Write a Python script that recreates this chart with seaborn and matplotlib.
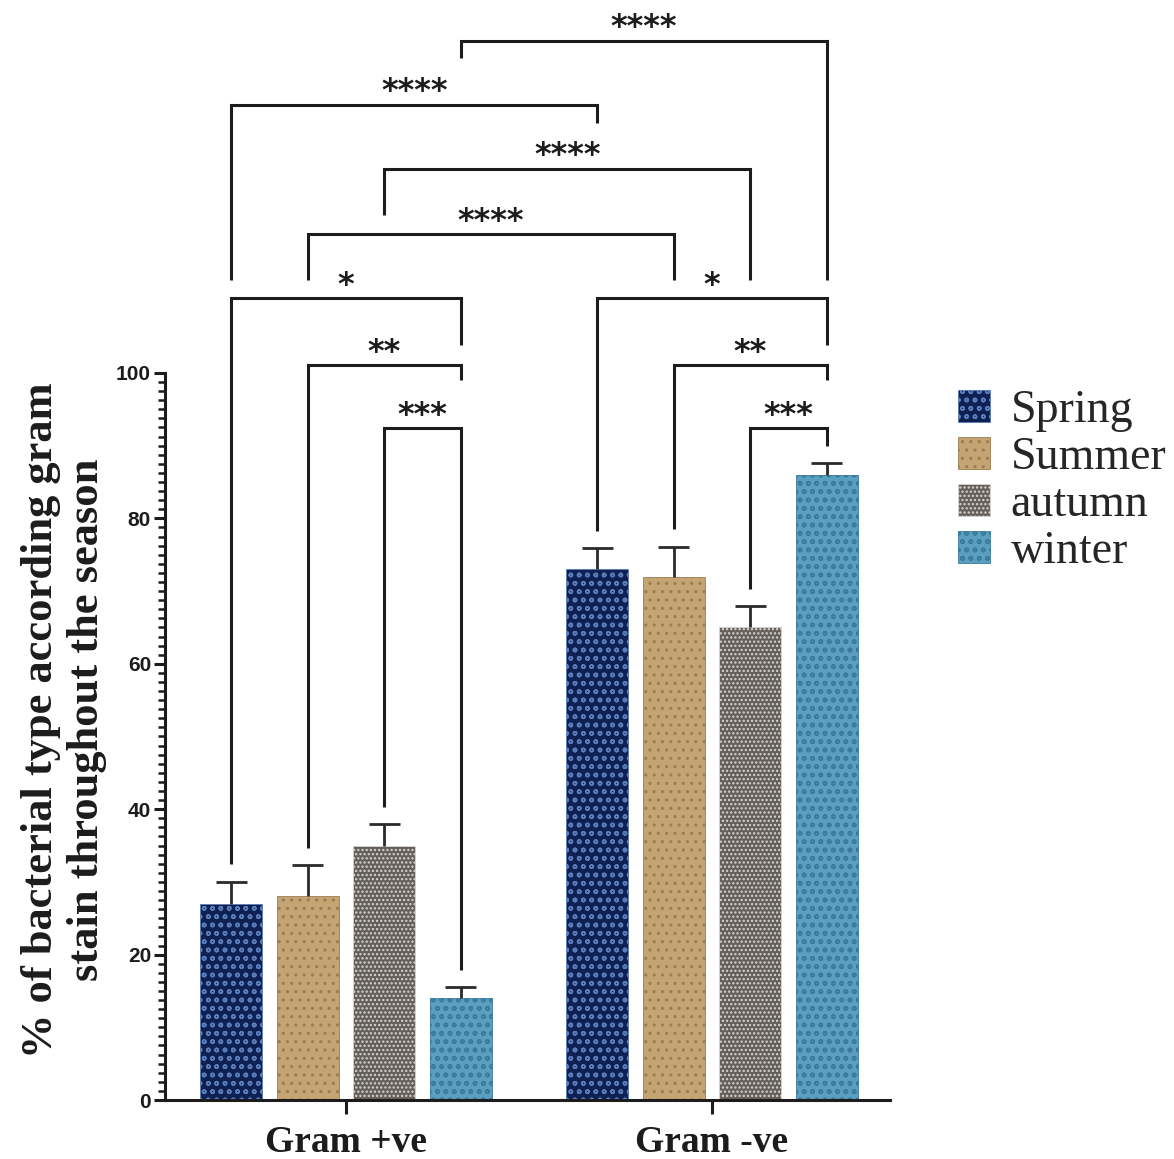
import numpy as np
import pandas as pd
import matplotlib
matplotlib.use("Agg")
import matplotlib.pyplot as plt
import matplotlib.patches as mpatches
from matplotlib.ticker import MultipleLocator, FixedLocator
import seaborn as sns

# ---- data -------------------------------------------------------------
groups = ["Gram +ve", "Gram -ve"]
seasons = ["Spring", "Summer", "autumn", "winter"]
mean_pos = [27, 28, 35, 14]
mean_neg = [73, 72, 65, 86]
sd_pos = [3.0, 4.3, 2.9, 1.5]
sd_neg = [2.9, 4.1, 2.9, 1.6]
y_ticks = [0, 20, 40, 60, 80, 100]
y_label = "% of bacterial type according gram\nstain throughout the season"

# pairwise comparisons: (group a, season a, group b, season b, significance)
comparisons = [
    ("Gram +ve", "winter", "Gram -ve", "winter", "****"),
    ("Gram +ve", "Spring", "Gram -ve", "Spring", "****"),
    ("Gram +ve", "autumn", "Gram -ve", "autumn", "****"),
    ("Gram +ve", "Summer", "Gram -ve", "Summer", "****"),
    ("Gram +ve", "Spring", "Gram +ve", "winter", "*"),
    ("Gram +ve", "Summer", "Gram +ve", "winter", "**"),
    ("Gram +ve", "autumn", "Gram +ve", "winter", "***"),
    ("Gram -ve", "Spring", "Gram -ve", "winter", "*"),
    ("Gram -ve", "Summer", "Gram -ve", "winter", "**"),
    ("Gram -ve", "autumn", "Gram -ve", "winter", "***"),
]

# ---- styling ----------------------------------------------------------
base_colors = {"Spring": "#0e2152", "Summer": "#c4a472",
               "autumn": "#645f5a", "winter": "#5b9fc0"}
hatch_colors = {"Spring": "#5a7dba", "Summer": "#9a7d50",
                "autumn": "#d9d5d0", "winter": "#3a7b9c"}
hatches = {"Spring": "oo", "Summer": "..", "autumn": "....", "winter": "oo"}
line_col = "#1c1c1c"

sns.set_theme(style="ticks")
plt.rcParams["font.family"] = ["Liberation Sans", "DejaVu Sans"]
plt.rcParams["hatch.linewidth"] = 1.1

df = pd.DataFrame({
    "group": np.repeat(groups, len(seasons)),
    "season": seasons * len(groups),
    "value": mean_pos + mean_neg,
    "sd": sd_pos + sd_neg,
})

fig = plt.figure(figsize=(11.74, 11.59), dpi=100)
ax = fig.add_axes([0.1405, 0.0509, 0.6175, 0.6273])

sns.barplot(data=df, x="group", y="value", hue="season", order=groups,
            hue_order=seasons, palette=base_colors, saturation=1,
            width=0.836, gap=0.19, errorbar=None, legend=False, ax=ax)

# texture each season's bars and collect bar geometry
bars = {}
for season, cont in zip(seasons, ax.containers):
    for grp, patch in zip(groups, cont.patches):
        patch.set_hatch(hatches[season])
        patch.set_edgecolor(hatch_colors[season])
        patch.set_linewidth(0.6)
        bars[(grp, season)] = patch

lookup = df.set_index(["group", "season"])

# upward error bars (mean + SD)
for key, patch in bars.items():
    cx = patch.get_x() + patch.get_width() / 2
    w = patch.get_width()
    m = lookup.loc[key, "value"]
    s = lookup.loc[key, "sd"]
    ax.vlines(cx, m, m + s, color="#2a2a2a", lw=2.0, zorder=4)
    ax.hlines(m + s, cx - w / 4, cx + w / 4, color="#2a2a2a", lw=2.0, zorder=4)

def bar_x(grp, season):
    p = bars[(grp, season)]
    return p.get_x() + p.get_width() / 2

def bar_top(grp, season):
    return lookup.loc[(grp, season), "value"] + lookup.loc[(grp, season), "sd"]

# bracket layout: horizontal level, left leg end, right leg end
# (None -> leg runs down to just above the error bar)
bracket_layout = [
    (145.7, 143.3, 112.8),
    (136.9, 112.8, 134.4),
    (128.1, 121.7, 112.8),
    (119.1, 112.8, 112.8),
    (110.3, None, 103.9),
    (101.1, None, 99.0),
    (92.4, None, None),
    (110.3, None, 103.9),
    (101.1, None, 99.0),
    (92.4, None, None),
]
leg_gap = 2.4
for (ga, sa, gb, sb, label), (lvl, l_end, r_end) in zip(comparisons, bracket_layout):
    x1, x2 = bar_x(ga, sa), bar_x(gb, sb)
    y1 = l_end if l_end is not None else bar_top(ga, sa) + leg_gap
    y2 = r_end if r_end is not None else bar_top(gb, sb) + leg_gap
    ax.plot([x1, x1, x2, x2], [y1, lvl, lvl, y2], color=line_col, lw=2.2,
            clip_on=False, solid_joinstyle="miter", solid_capstyle="butt",
            zorder=5)
    ax.text((x1 + x2) / 2, lvl + 0.6, label, ha="center", va="baseline",
            fontsize=23, fontweight="bold", family="DejaVu Sans",
            color=line_col, clip_on=False)

# axes
ax.set_xlim(-0.495, 1.486)
ax.set_ylim(0, 100)
ax.yaxis.set_major_locator(FixedLocator(y_ticks))
ax.yaxis.set_minor_locator(MultipleLocator(1.25))
ax.set_xlabel("")
ax.set_ylabel("")
sns.despine(ax=ax)
for side in ("left", "bottom"):
    ax.spines[side].set_linewidth(2.2)
    ax.spines[side].set_color(line_col)
ax.tick_params(axis="y", which="major", length=8, width=2.2, pad=2,
               color=line_col, labelsize=15)
ax.tick_params(axis="y", which="minor", length=5, width=1.8, color=line_col)
ax.tick_params(axis="x", which="major", length=10, width=2.2, pad=8,
               color=line_col)
for t in ax.get_yticklabels():
    t.set_fontweight("bold")
    t.set_color(line_col)
ax.set_xticks([0, 1])
ax.set_xticklabels(groups, family="Liberation Serif", fontweight="bold",
                   fontsize=27, color=line_col)

fig.text(0.0545, 0.379, y_label, rotation=90, ha="center", va="center",
         family="Liberation Serif", fontweight="bold", fontsize=32,
         multialignment="center", linespacing=1.17, color=line_col)

handles = [mpatches.Patch(facecolor=base_colors[s], edgecolor=hatch_colors[s],
                          hatch=hatches[s], lw=0.6) for s in seasons]
fig.legend(handles, seasons, loc="upper left", bbox_to_anchor=(0.816, 0.664),
           frameon=False, prop={"family": "Liberation Serif", "size": 33},
           handlelength=0.7, handleheight=0.7, handletextpad=0.45,
           labelspacing=0.1, borderpad=0, borderaxespad=0)

fig.savefig("out.png", dpi=100, facecolor="white")
